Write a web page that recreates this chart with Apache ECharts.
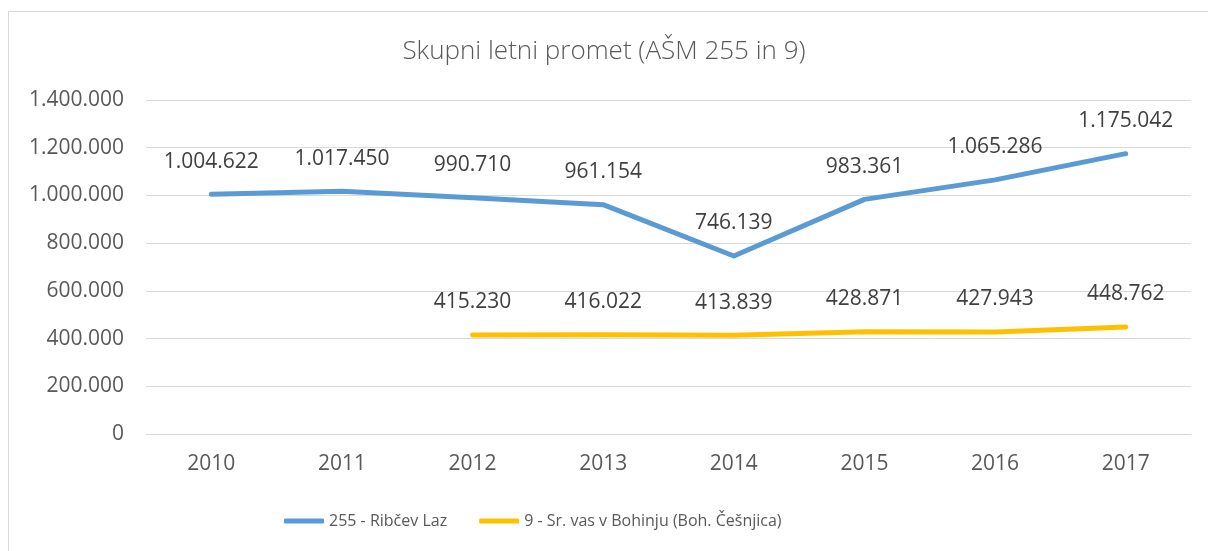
<!DOCTYPE html>
<html>
<head>
<meta charset="utf-8">
<script src="https://cdn.jsdelivr.net/npm/echarts@6/dist/echarts.min.js"></script>
<style>
  html, body { margin: 0; padding: 0; background: #ffffff; }
  #chart { width: 1208px; height: 551px; }
</style>
</head>
<body>
<div id="chart"></div>
<script>
const years = ["2010", "2011", "2012", "2013", "2014", "2015", "2016", "2017"];
const ribcevLaz = [1004622, 1017450, 990710, 961154, 746139, 983361, 1065286, 1175042];
const srednjaVas = [null, null, 415230, 416022, 413839, 428871, 427943, 448762];
const seriesNames = ["255 - Ribčev Laz", "9 - Sr. vas v Bohinju (Boh. Češnjica)"];

// 1.004.622 style (slovenian thousands separator)
function fmt(v) {
  return String(Math.round(v)).replace(/\B(?=(\d{3})+(?!\d))/g, ".");
}

const chart = echarts.init(document.getElementById("chart"));
const labelStyle = {
  show: true,
  position: "top",
  distance: 22,
  fontFamily: "Open Sans",
  fontSize: 21,
  color: "#404040",
  formatter: (p) => fmt(p.value),
};

chart.setOption({
  animation: false,
  textStyle: { fontFamily: "Open Sans" },
  graphic: [
    {
      type: "rect",
      shape: { x: 8.5, y: 11.5, width: 1300, height: 700 },
      style: { fill: null, stroke: "#d9d9d9", lineWidth: 1 },
      silent: true,
    },
  ],
  title: {
    text: "Skupni letni promet (AŠM 255 in 9)",
    left: "center",
    top: 34,
    textStyle: {
      fontFamily: "Open Sans",
      fontWeight: 300,
      fontSize: 26,
      color: "#595959",
    },
  },
  legend: {
    top: 508,
    left: 279,
    itemWidth: 40,
    itemHeight: 5,
    itemGap: 32,
    icon: "roundRect",
    textStyle: { fontFamily: "Open Sans", fontSize: 16, color: "#595959" },
    data: seriesNames,
  },
  grid: { left: 146, right: 17, top: 100, bottom: 117 },
  xAxis: {
    type: "category",
    data: years,
    boundaryGap: true,
    axisLine: { show: true, lineStyle: { color: "#d9d9d9" } },
    axisTick: { show: false },
    axisLabel: { fontSize: 21, color: "#595959", margin: 20 },
  },
  yAxis: {
    type: "value",
    min: 0,
    max: 1400000,
    interval: 200000,
    axisLine: { show: false },
    axisTick: { show: false },
    splitLine: { lineStyle: { color: "#d9d9d9", width: 1 } },
    axisLabel: { fontSize: 21, color: "#595959", margin: 22, formatter: fmt },
  },
  series: [
    {
      name: seriesNames[0],
      type: "line",
      data: ribcevLaz,
      symbol: "circle",
      symbolSize: 0.1,
      color: "#5b9bd5",
      lineStyle: { width: 5, cap: "round", join: "round" },
      label: labelStyle,
    },
    {
      name: seriesNames[1],
      type: "line",
      data: srednjaVas,
      symbol: "circle",
      symbolSize: 0.1,
      color: "#ffc000",
      lineStyle: { width: 5, cap: "round", join: "round" },
      label: labelStyle,
    },
  ],
});
</script>
</body>
</html>
